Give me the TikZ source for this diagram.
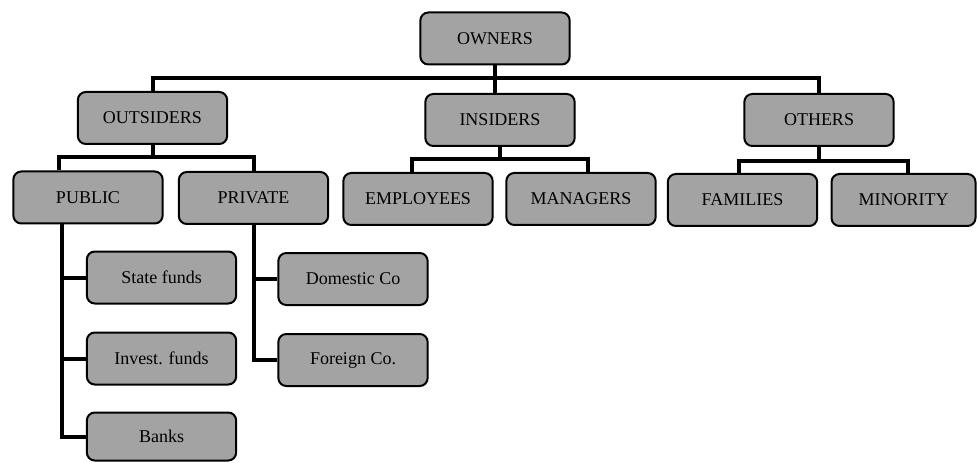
\documentclass[tikz,border=0pt]{standalone}
\usepackage{fontspec}
\setmainfont{Liberation Serif}

\begin{document}
\begin{tikzpicture}[x=0.75pt,y=-0.75pt,
    box/.style={draw=black,line width=1.5pt,rounded corners=6pt,fill=black!36,
      minimum width=112pt,minimum height=39pt,inner sep=2pt,
      font=\fontsize{13.5}{16}\selectfont},
    link/.style={line width=3pt}]
    % fix the page size
    \useasboundingbox (0,0) rectangle (977,463);

    % draw nodes
    \node[box] (owners) at (495,38.5) {OWNERS};
    \node[box] (outsiders) at (152.5,118) {OUTSIDERS};
    \node[box] (insiders) at (500,120) {INSIDERS};
    \node[box] (others) at (819,120) {OTHERS};

    \node[box] (public) at (88,197.5) {PUBLIC};
    \node[box] (private) at (253.5,198) {PRIVATE};
    \node[box] (employees) at (418,199) {EMPLOYEES};
    \node[box] (managers) at (581,199) {MANAGERS};
    \node[box] (families) at (742.5,200) {FAMILIES};
    \node[box,minimum width=108pt] (minority) at (903.5,200) {MINORITY};

    \node[box] (statef) at (161.5,277.5) {State funds};
    \node[box] (investf) at (161.5,358.5) {Invest. funds};
    \node[box,minimum height=36pt] (banks) at (161.5,436.5) {Banks};
    \node[box] (domesticco) at (353,279) {Domestic Co};
    \node[box] (foreignco) at (353,360) {Foreign Co.};

    % draw links: first level
    \coordinate (topbus) at (495,78);
    \draw[link] (owners.south) -- (owners.south |- insiders.north);
    \draw[link] (outsiders.north) |- (topbus) -| (others.north);

    % draw links: outsiders
    \coordinate (outbus) at (152.5,157);
    \coordinate (publeft) at (59,157);
    \draw[link] (outsiders.south) -- (outbus);
    \draw[link] (publeft |- public.north) |- (outbus) -| (private.north);

    % draw links: insiders
    \coordinate (insleft) at (412,159);
    \coordinate (insright) at (588,159);
    \draw[link] (insiders.south) -- (insiders.south |- insleft);
    \draw[link] (insleft |- employees.north) -- (insleft) -- (insright) -- (insright |- managers.north);

    % draw links: others
    \coordinate (othleft) at (739,161);
    \coordinate (othright) at (908,161);
    \draw[link] (others.south) -- (others.south |- othleft);
    \draw[link] (othleft |- families.north) -- (othleft) -- (othright) -- (othright |- minority.north);

    % draw links: public
    \coordinate (pubspine) at (62,0);
    \draw[link] (pubspine |- public.south) |- (banks.west);
    \draw[link] (pubspine |- statef.west) -- (statef.west);
    \draw[link] (pubspine |- investf.west) -- (investf.west);

    % draw links: private
    \draw[link] (private.south) |- (foreignco.west);
    \draw[link] (private.south |- domesticco.west) -- (domesticco.west);
\end{tikzpicture}
\end{document}
